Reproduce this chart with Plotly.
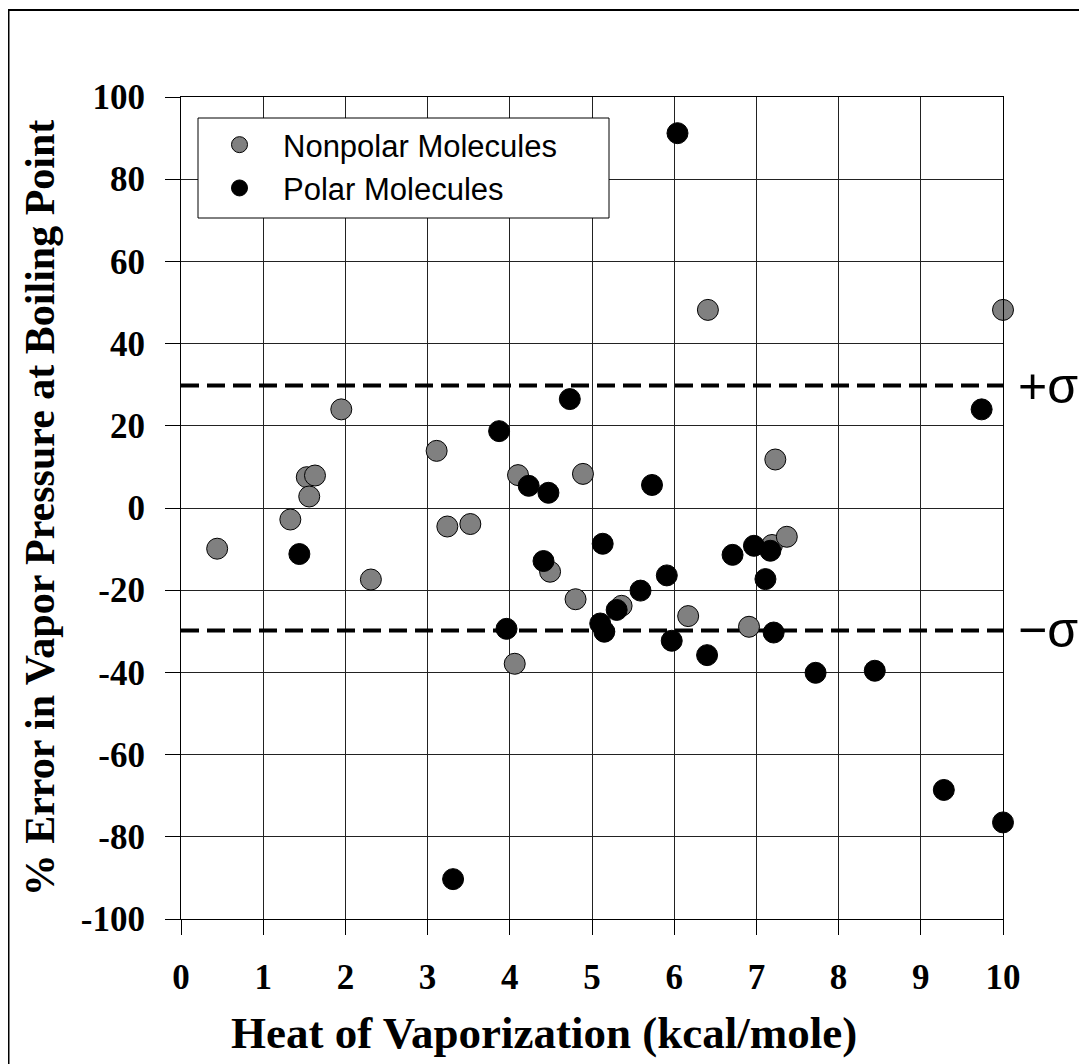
import plotly.graph_objects as go

# ---- data ----
nonpolar_x = [0.44, 1.33, 1.53, 1.56, 1.63, 1.95, 2.31, 3.11, 3.24, 3.52, 4.06, 4.10,
              4.49, 4.80, 4.89, 5.36, 6.17, 6.41, 6.91, 7.19, 7.23, 7.37, 10.0]
nonpolar_y = [-9.9, -2.8, 7.5, 2.8, 7.9, 24.0, -17.4, 13.9, -4.5, -3.9, -37.9, 8.0,
              -15.5, -22.2, 8.3, -23.8, -26.3, 48.2, -28.9, -9.0, 11.8, -7.0, 48.2]

polar_x = [1.44, 3.31, 3.87, 3.96, 4.23, 4.41, 4.47, 4.73, 5.10, 5.13, 5.15, 5.30,
           5.59, 5.73, 5.91, 5.97, 6.04, 6.40, 6.71, 6.97, 7.11, 7.17, 7.21, 7.72,
           8.44, 9.28, 9.74, 10.0]
polar_y = [-11.2, -90.3, 18.7, -29.4, 5.4, -12.9, 3.7, 26.5, -28.1, -8.7, -30.1, -24.8,
           -20.1, 5.6, -16.4, -32.3, 91.2, -35.8, -11.4, -9.2, -17.3, -10.4, -30.3, -40.1,
           -39.6, -68.6, 24.0, -76.5]

sigma = 29.8
x_range = [0, 10]
y_range = [-100, 100]
x_ticks = [0, 1, 2, 3, 4, 5, 6, 7, 8, 9, 10]
x_ticktext = ["0", "1", "2", "3", "4", "5", "6", "7", "8", "9", "10"]
y_ticks = [-100, -80, -60, -40, -20, 0, 20, 40, 60, 80, 100]
y_ticktext = ["-100", "-80", "-60", "-40", "-20", "0", "20", "40", "60", "80", "100"]

x_title = "Heat of Vaporization (kcal/mole)"
y_title = "% Error in Vapor Pressure at Boiling Point"

# page has an 8px body margin, so the figure is a bit smaller than the window
W, H = 1079, 1056
ML, MR, MT, MB = 173, 84, 89, 145
PW, PH = W - ML - MR, H - MT - MB

serif = "Liberation Serif, Times New Roman, serif"
sans = "Liberation Sans, Arial, sans-serif"

fig = go.Figure()

# sigma lines
for s in (sigma, -sigma):
    fig.add_trace(go.Scatter(x=x_range, y=[s, s], mode="lines",
                             line=dict(color="black", width=4, dash="18px,8px"),
                             showlegend=False, hoverinfo="skip"))

fig.add_trace(go.Scatter(x=nonpolar_x, y=nonpolar_y, mode="markers",
                         name="Nonpolar Molecules",
                         marker=dict(size=21, color="#808080",
                                     line=dict(color="black", width=1)),
                         cliponaxis=False))
fig.add_trace(go.Scatter(x=polar_x, y=polar_y, mode="markers",
                         name="Polar Molecules",
                         marker=dict(size=21, color="black",
                                     line=dict(color="black", width=1)),
                         cliponaxis=False))

fig.add_annotation(x=10, y=sigma, xref="x", yref="y", text="+σ", showarrow=False,
                   xanchor="left", yanchor="middle", xshift=13,
                   font=dict(family=sans, size=50, color="black"))
fig.add_annotation(x=10, y=-sigma, xref="x", yref="y", text="−σ", showarrow=False,
                   xanchor="left", yanchor="middle", xshift=13,
                   font=dict(family=sans, size=50, color="black"))

# x-axis title (sits a little left of the plot centre in the original)
fig.add_annotation(x=(536 - ML) / PW, y=-(1025 - MT - PH) / PH, xref="paper", yref="paper",
                   text=x_title, showarrow=False, xanchor="center", yanchor="middle",
                   font=dict(family=serif, size=45, color="black", weight="bold"))

# legend box
fig.add_shape(type="rect", xref="paper", yref="paper", layer="above",
              x0=(190 - ML) / PW, x1=(601 - ML) / PW,
              y0=1 - (210 - MT) / PH, y1=1 - (110 - MT) / PH,
              line=dict(color="black", width=1), fillcolor="white")

# outer frame of the picture
fig.add_shape(type="rect", xref="paper", yref="paper",
              x0=(0.5 - ML) / PW, x1=(W - 2 - ML) / PW,
              y0=-(MB + 20) / PH, y1=(PH + MT - 2) / PH,
              line=dict(color="black", width=2), fillcolor="rgba(0,0,0,0)")

fig.update_layout(
    width=W, height=H,
    margin=dict(l=ML, r=MR, t=MT, b=MB, autoexpand=False),
    paper_bgcolor="white", plot_bgcolor="white",
    showlegend=True,
    legend=dict(x=(188 - ML) / PW, y=1 - (110 - MT) / PH, xanchor="left", yanchor="top",
                borderwidth=0, bgcolor="rgba(0,0,0,0)",
                font=dict(family=sans, size=31, color="black"),
                itemsizing="trace", tracegroupgap=0, itemwidth=77),
    xaxis=dict(range=x_range, tickvals=x_ticks, ticktext=x_ticktext,
               showgrid=True, gridcolor="#222", gridwidth=1,
               showline=True, linecolor="black", linewidth=1, mirror=True,
               ticks="outside", ticklen=15, tickcolor="black",
               ticklabelstandoff=12,
               tickfont=dict(family=serif, size=35, color="black", weight="bold"),
               zeroline=False, automargin=False),
    yaxis=dict(range=y_range, tickvals=y_ticks, ticktext=y_ticktext,
               showgrid=True, gridcolor="#222", gridwidth=1,
               showline=True, linecolor="black", linewidth=1, mirror=True,
               ticks="outside", ticklen=15, tickcolor="black",
               ticklabelstandoff=13,
               tickfont=dict(family=serif, size=35, color="black", weight="bold"),
               title=dict(text=y_title, standoff=13,
                          font=dict(family=serif, size=42, color="black", weight="bold")),
               zeroline=False, automargin=False),
)

fig.write_html("out.html")
